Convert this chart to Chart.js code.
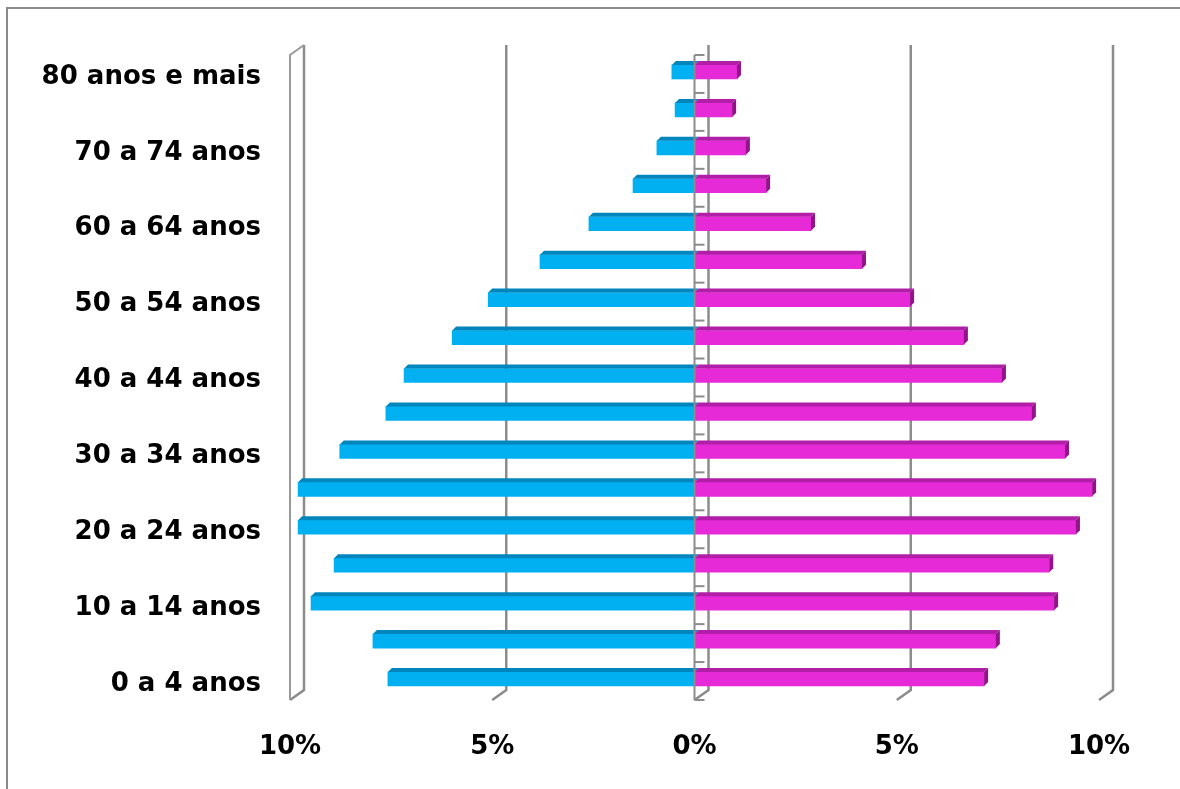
<!DOCTYPE html>
<html>
<head>
<meta charset="utf-8">
<script src="https://cdn.jsdelivr.net/npm/chart.js@4"></script>
<style>
html,body{margin:0;padding:0;background:#fff;overflow:hidden;}
#wrap{position:relative;width:1180px;height:789px;overflow:hidden;}
#frame{position:absolute;left:6px;top:7px;width:1200px;height:900px;border-top:2px solid #8a8a8a;border-left:2px solid #8a8a8a;pointer-events:none;}
canvas{display:block;}
</style>
</head>
<body>
<div id="wrap">
<canvas id="c" width="1180" height="789"></canvas>
<div id="frame"></div>
</div>
<script>
const categories = ["80 anos e mais","75 a 79 anos","70 a 74 anos","65 a 69 anos","60 a 64 anos","55 a 59 anos","50 a 54 anos","45 a 49 anos","40 a 44 anos","35 a 39 anos","30 a 34 anos","25 a 29 anos","20 a 24 anos","15 a 19 anos","10 a 14 anos","5 a 9 anos","0 a 4 anos"];
const homens = [0.56,0.48,0.93,1.52,2.61,3.82,5.10,5.99,7.18,7.63,8.77,9.80,9.80,8.91,9.48,7.95,7.58];
const mulheres = [1.05,0.93,1.27,1.77,2.88,4.14,5.33,6.66,7.60,8.34,9.16,9.83,9.43,8.77,8.89,7.45,7.16];
const xTicks = [-10,-5,0,5,10];

const DEPTH_X = 14, DEPTH_Y = 10, BAR_D = 4, BAR_SHIFT = -2;
const GRID = '#8c8c8c';

const wallsPlugin = {
  id: 'walls',
  beforeDatasetsDraw(chart) {
    const ctx = chart.ctx, xs = chart.scales.x, a = chart.chartArea;
    ctx.save();
    ctx.strokeStyle = GRID;
    ctx.lineWidth = 2.5;
    xTicks.forEach(v => {
      const x = xs.getPixelForValue(v);
      ctx.beginPath();
      ctx.moveTo(x + DEPTH_X, a.top - DEPTH_Y);
      ctx.lineTo(x + DEPTH_X, a.bottom - DEPTH_Y);
      ctx.lineTo(x, a.bottom);
      ctx.stroke();
    });
    const xl = xs.getPixelForValue(-10);
    ctx.lineWidth = 2;
    ctx.strokeStyle = '#9a9a9a';
    ctx.beginPath();
    ctx.moveTo(xl, a.bottom);
    ctx.lineTo(xl, a.top);
    ctx.lineTo(xl + DEPTH_X, a.top - DEPTH_Y);
    ctx.stroke();
    ctx.restore();
    ctx.save();
    ctx.translate(0, BAR_SHIFT);
  },
  afterDatasetsDraw(chart) {
    const ctx = chart.ctx, xs = chart.scales.x, a = chart.chartArea;
    const shades = [['#0086BC','#006F9A'],['#B21EA8','#94128A']];
    chart.data.datasets.forEach((ds, di) => {
      const meta = chart.getDatasetMeta(di);
      meta.data.forEach(el => {
        const p = el.getProps(['x','y','base','height'], true);
        const left = Math.min(p.x, p.base), right = Math.max(p.x, p.base);
        const top = p.y - p.height / 2, bottom = p.y + p.height / 2;
        ctx.fillStyle = shades[di][0];
        ctx.beginPath();
        ctx.moveTo(left, top);
        ctx.lineTo(right, top);
        ctx.lineTo(right + BAR_D, top - BAR_D);
        ctx.lineTo(left + BAR_D, top - BAR_D);
        ctx.closePath();
        ctx.fill();
        if (di === 1) {
          ctx.fillStyle = shades[di][1];
          ctx.beginPath();
          ctx.moveTo(right, top);
          ctx.lineTo(right + BAR_D, top - BAR_D);
          ctx.lineTo(right + BAR_D, bottom - BAR_D);
          ctx.lineTo(right, bottom);
          ctx.closePath();
          ctx.fill();
        }
      });
    });
    ctx.restore();
    ctx.save();
    const x0 = xs.getPixelForValue(0);
    ctx.strokeStyle = '#8c8c8c';
    ctx.lineWidth = 2;
    ctx.beginPath();
    ctx.moveTo(x0, a.top);
    ctx.lineTo(x0, a.bottom);
    ctx.stroke();
    const step = (a.bottom - a.top) / categories.length;
    for (let i = 0; i <= categories.length; i++) {
      const y = a.top + i * step;
      ctx.beginPath();
      ctx.moveTo(x0, y);
      ctx.lineTo(x0 + 10, y);
      ctx.stroke();
    }
    ctx.restore();
  }
};

new Chart(document.getElementById('c'), {
  type: 'bar',
  data: {
    labels: categories,
    datasets: [
      { label: 'Homens', data: homens.map(v => -v), backgroundColor: '#00B0F0', borderWidth: 0, barThickness: 14 },
      { label: 'Mulheres', data: mulheres, backgroundColor: '#E62AD8', borderWidth: 0, barThickness: 14 }
    ]
  },
  options: {
    indexAxis: 'y',
    responsive: false,
    animation: false,
    layout: { padding: { top: 55, right: 81, left: 0, bottom: 0 } },
    plugins: { legend: { display: false }, tooltip: { enabled: false } },
    scales: {
      x: {
        stacked: true,
        min: -10, max: 10,
        afterBuildTicks(scale) { scale.ticks = xTicks.map(v => ({ value: v })); },
        afterFit(scale) { scale.height = 89; },
        grid: { display: false, drawTicks: false },
        border: { display: false },
        ticks: {
          padding: 32,
          color: '#000',
          font: { family: 'DejaVu Sans', weight: 'bold', size: 26 },
          callback: v => Math.abs(v) + '%'
        }
      },
      y: {
        stacked: true,
        afterFit(scale) { scale.width = 290; },
        grid: { display: false, drawTicks: false },
        border: { display: false },
        ticks: {
          autoSkip: false,
          padding: 29,
          labelOffset: 3,
          color: '#000',
          font: { family: 'DejaVu Sans', weight: 'bold', size: 26 },
          callback: function(v, i) { return (i % 2 === 0) ? categories[i] : ''; }
        }
      }
    }
  },
  plugins: [wallsPlugin]
});
</script>
</body>
</html>
